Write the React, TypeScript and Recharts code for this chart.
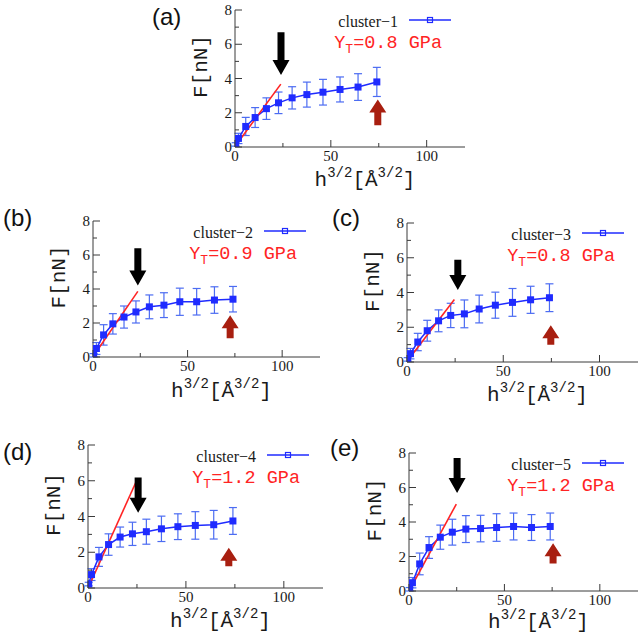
import React from 'react';
import { ComposedChart, Line, XAxis, YAxis, ErrorBar, ReferenceLine, Legend, Label } from 'recharts';

// h^{3/2} positions shared by every cluster
const hx = [0.35, 1.8, 5.6, 10.5, 16.4, 22.7, 29.8, 37.5, 45.9, 54.8, 64.2, 74];

const f1 = [0.15, 0.5, 1.2, 1.72, 2.24, 2.58, 2.87, 3.06, 3.2, 3.36, 3.5, 3.8];
const e1 = [0.1, 0.3, 0.53, 0.58, 0.63, 0.63, 0.65, 0.73, 0.75, 0.73, 0.78, 0.85];
const f2 = [0.1, 0.5, 1.3, 1.95, 2.35, 2.65, 2.95, 3.05, 3.25, 3.25, 3.35, 3.4];
const e2 = [0.1, 0.35, 0.6, 0.6, 0.65, 0.65, 0.7, 0.73, 0.8, 0.78, 0.78, 0.75];
const f3 = [0.15, 0.48, 1.15, 1.8, 2.37, 2.68, 2.77, 3.05, 3.27, 3.43, 3.58, 3.7];
const e3 = [0.1, 0.3, 0.5, 0.6, 0.63, 0.7, 0.8, 0.8, 0.75, 0.8, 0.78, 0.8];
const f4 = [0.22, 0.75, 1.74, 2.43, 2.85, 3.03, 3.15, 3.31, 3.43, 3.5, 3.54, 3.75];
const e4 = [0.1, 0.33, 0.53, 0.6, 0.56, 0.65, 0.7, 0.71, 0.72, 0.77, 0.8, 0.75];
const f5 = [0.1, 0.48, 1.57, 2.52, 3.12, 3.41, 3.59, 3.62, 3.68, 3.74, 3.68, 3.74];
const e5 = [0.1, 0.3, 0.63, 0.63, 0.7, 0.75, 0.78, 0.77, 0.8, 0.78, 0.75, 0.78];

// linear fits (start, end)
const fitX1 = [0.5, 23.9]; const fitY1 = [0.1, 3.67];
const fitX2 = [0.5, 23.7]; const fitY2 = [0.1, 3.86];
const fitX3 = [0.5, 24.6]; const fitY3 = [0.1, 3.6];
const fitX4 = [0.5, 24.4]; const fitY4 = [0.1, 5.9];
const fitX5 = [0.5, 24.8]; const fitY5 = [0.1, 5.04];

// arrows: x, [tail, tip]
const blackX = [24, 23.7, 26.4, 25.6, 25.2];
const blackY = [[6.7, 4.2], [6.4, 4.2], [5.88, 4.14], [6.18, 4.21], [7.71, 5.68]];
const redX = [74.5, 72.5, 74.7, 71.9, 75.5];
const redY = [[1.27, 2.77], [1.1, 2.45], [1.0, 2.12], [1.22, 2.25], [1.6, 2.77]];

const tags = ['(a)', '(b)', '(c)', '(d)', '(e)'];
const names = ['cluster\u22121', 'cluster\u22122', 'cluster\u22123', 'cluster\u22124', 'cluster\u22125'];
const ytValues = ['0.8', '0.9', '0.8', '1.2', '1.2'];

const xTicks = [0, 25, 50, 75, 100];
const yTicks = [0, 1, 2, 3, 4, 5, 6, 7, 8];

const SERIF = '"Liberation Serif", "Times New Roman", serif';
const MONO = '"Liberation Mono", "Courier New", monospace';
const SANS = '"Liberation Sans", Arial, sans-serif';
const BLUE = '#1f2bff';
const ERR_BLUE = '#4c6cf2';
const RED = '#ff2424';
const DARK_RED = '#a81f10';
const FRAME = '#3a3a3a';
const TXT = '#1a1a1a';

const AX_W = 60;
const AX_H = 50;
const TOP_M = 12;
const RIGHT_M = 10;

const layouts = [
  { L: 235, T: 9.5, pw: 230, ph: 137, tagX: 152, tagY: 27, xlabDy: 39 },
  { L: 93, T: 221, pw: 227, ph: 136, tagX: 3, tagY: 228, xlabDy: 40 },
  { L: 407, T: 223, pw: 231, ph: 139, tagX: 332, tagY: 228, xlabDy: 39 },
  { L: 88, T: 445, pw: 235, ph: 143, tagX: 3, tagY: 462, xlabDy: 39 },
  { L: 409, T: 453, pw: 229, ph: 138, tagX: 330, tagY: 458, xlabDy: 37 },
];

const BottomTick = (p: any) => {
  const major = p.payload.value % 50 === 0;
  return (
    <g>
      <line x1={p.x} y1={p.y} x2={p.x} y2={p.y - (major ? 7 : 4)} stroke={FRAME} />
      {major && (
        <text x={p.x} y={p.y + 14} textAnchor="middle" fontFamily={SERIF} fontSize={15} fill={TXT}>
          {p.payload.value}
        </text>
      )}
    </g>
  );
};

const TopTick = (p: any) => {
  const major = p.payload.value % 50 === 0;
  return <line x1={p.x} y1={p.y} x2={p.x} y2={p.y + (major ? 7 : 4)} stroke={FRAME} />;
};

const LeftTick = (p: any) => {
  const major = p.payload.value % 2 === 0;
  return (
    <g>
      <line x1={p.x} y1={p.y} x2={p.x + (major ? 7 : 4)} y2={p.y} stroke={FRAME} />
      {major && (
        <text x={p.x - 3} y={p.y + 5} textAnchor="end" fontFamily={SERIF} fontSize={15} fill={TXT}>
          {p.payload.value}
        </text>
      )}
    </g>
  );
};

const RightTick = (p: any) => {
  const major = p.payload.value % 2 === 0;
  return <line x1={p.x} y1={p.y} x2={p.x - (major ? 7 : 4)} y2={p.y} stroke={FRAME} />;
};

const SquareDot = (p: any) => {
  if (p.cx == null || p.cy == null) return <g key={p.key} />;
  return <rect key={p.key} x={p.cx - 3.5} y={p.cy - 3.5} width={7} height={7} fill={BLUE} />;
};

const arrowShape = (color: string, sw: number, hw: number, hl: number) => (p: any) => {
  const { x1, y1, y2 } = p;
  const dir = y2 > y1 ? 1 : -1;
  const yb = y2 - dir * hl;
  const pts = [
    [x1 - sw / 2, y1], [x1 + sw / 2, y1], [x1 + sw / 2, yb], [x1 + hw / 2, yb],
    [x1, y2], [x1 - hw / 2, yb], [x1 - sw / 2, yb],
  ].map((q) => q.join(',')).join(' ');
  return <polygon points={pts} fill={color} />;
};

const blackArrow = arrowShape('#000', 7, 17, 15);
const redArrow = arrowShape(DARK_RED, 7, 17, 13);

function XLab(props: any) {
  const vb = props.viewBox;
  const dy = props.dyBase;
  return (
    <text x={vb.x + vb.width / 2 + 15} y={vb.y + dy} textAnchor="middle" fontFamily={MONO} fontSize={21} fill={TXT}>
      <tspan>h</tspan>
      <tspan dy={-9} fontSize={14}>3/2</tspan>
      <tspan dy={9}>[Å</tspan>
      <tspan dy={-9} fontSize={14}>3/2</tspan>
      <tspan dy={9}>]</tspan>
    </text>
  );
}

function YLab(props: any) {
  const vb = props.viewBox;
  const cx = vb.x + vb.width - 35 + 7;
  const cy = vb.y + vb.height / 2 - 12;
  return (
    <text transform={`translate(${cx},${cy}) rotate(-90)`} textAnchor="middle" fontFamily={MONO} fontSize={21} fill={TXT}>
      F[nN]
    </text>
  );
}

function PanelLegend({ w, h, pw, name, yt }: any) {
  const right = AX_W + pw;
  const top = TOP_M;
  return (
    <svg width={w} height={h} style={{ position: 'absolute', left: 0, top: 0 }}>
      <text x={right - 67} y={top + 17} textAnchor="end" fontFamily={SERIF} fontSize={16} fill={TXT}>
        {name}
      </text>
      <line x1={right - 56} y1={top + 10} x2={right - 14} y2={top + 10} stroke={BLUE} strokeWidth={1.3} />
      <rect x={right - 37.5} y={top + 7.5} width={5} height={5} fill="none" stroke={BLUE} strokeWidth={1.2} />
      <text x={right - 23} y={top + 38} textAnchor="end" fontFamily={MONO} fontSize={18.5} fill={RED}>
        <tspan>Y</tspan>
        <tspan dy={5} fontSize={13}>T</tspan>
        <tspan dy={-5}>={yt} GPa</tspan>
      </text>
    </svg>
  );
}

function Panel({ idx, f, e, fitX, fitY }: any) {
  const lay = layouts[idx];
  const w = lay.pw + AX_W + RIGHT_M;
  const h = lay.ph + TOP_M + AX_H;
  const rows = hx.map((x, i) => ({ x, f: f[i], e: e[i] }));
  const fit = fitX.map((x: number, i: number) => ({ x, f: fitY[i] }));
  return (
    <>
      <div style={{ position: 'absolute', left: lay.tagX, top: lay.tagY - 22, fontFamily: SANS, fontSize: 24, lineHeight: '24px', color: '#111' }}>
        {tags[idx]}
      </div>
      <div style={{ position: 'absolute', left: lay.L - AX_W, top: lay.T - TOP_M }}>
        <ComposedChart width={w} height={h} margin={{ top: TOP_M, right: RIGHT_M, left: 0, bottom: 0 }}>
          <XAxis dataKey="x" type="number" domain={[0, 120]} ticks={xTicks} interval={0} allowDataOverflow
            height={AX_H} tickSize={0} tickMargin={0} tickLine={false} tick={BottomTick} axisLine={{ stroke: FRAME }}>
            <Label content={(p: any) => <XLab {...p} dyBase={lay.xlabDy} />} />
          </XAxis>
          <XAxis xAxisId="top" orientation="top" type="number" domain={[0, 120]} ticks={xTicks} interval={0} allowDataOverflow
            height={0} tickSize={0} tickMargin={0} tickLine={false} tick={TopTick} axisLine={{ stroke: FRAME }} />
          <YAxis type="number" domain={[0, 8]} ticks={yTicks} interval={0} allowDataOverflow
            width={AX_W} tickSize={0} tickMargin={0} tickLine={false} tick={LeftTick} axisLine={{ stroke: FRAME }}>
            <Label content={(p: any) => <YLab {...p} />} />
          </YAxis>
          <YAxis yAxisId="right" orientation="right" type="number" domain={[0, 8]} ticks={yTicks} interval={0} allowDataOverflow
            width={0} tickSize={0} tickMargin={0} tickLine={false} tick={RightTick} axisLine={{ stroke: FRAME }} />
          <Line data={rows} dataKey="f" stroke={BLUE} strokeWidth={1.5} dot={SquareDot} activeDot={false} isAnimationActive={false}>
            <ErrorBar dataKey="e" direction="y" width={4} stroke={ERR_BLUE} strokeWidth={1.2} isAnimationActive={false} />
          </Line>
          <Line data={fit} dataKey="f" stroke={RED} strokeWidth={1.6} dot={false} activeDot={false} isAnimationActive={false} />
          <ReferenceLine segment={[{ x: blackX[idx], y: blackY[idx][0] }, { x: blackX[idx], y: blackY[idx][1] }]}
            shape={blackArrow} ifOverflow="visible" />
          <ReferenceLine segment={[{ x: redX[idx], y: redY[idx][0] }, { x: redX[idx], y: redY[idx][1] }]}
            shape={redArrow} ifOverflow="visible" />
          <Legend layout="horizontal" verticalAlign="middle" align="center"
            wrapperStyle={{ left: 0, top: 0, width: w, height: h, pointerEvents: 'none' }}
            content={() => <PanelLegend w={w} h={h} pw={lay.pw} name={names[idx]} yt={ytValues[idx]} />} />
        </ComposedChart>
      </div>
    </>
  );
}

export default function App() {
  return (
    <div style={{ position: 'absolute', left: 0, top: 0, width: 641, height: 636, overflow: 'hidden', background: '#fff' }}>
      <Panel idx={0} f={f1} e={e1} fitX={fitX1} fitY={fitY1} />
      <Panel idx={1} f={f2} e={e2} fitX={fitX2} fitY={fitY2} />
      <Panel idx={2} f={f3} e={e3} fitX={fitX3} fitY={fitY3} />
      <Panel idx={3} f={f4} e={e4} fitX={fitX4} fitY={fitY4} />
      <Panel idx={4} f={f5} e={e5} fitX={fitX5} fitY={fitY5} />
    </div>
  );
}
